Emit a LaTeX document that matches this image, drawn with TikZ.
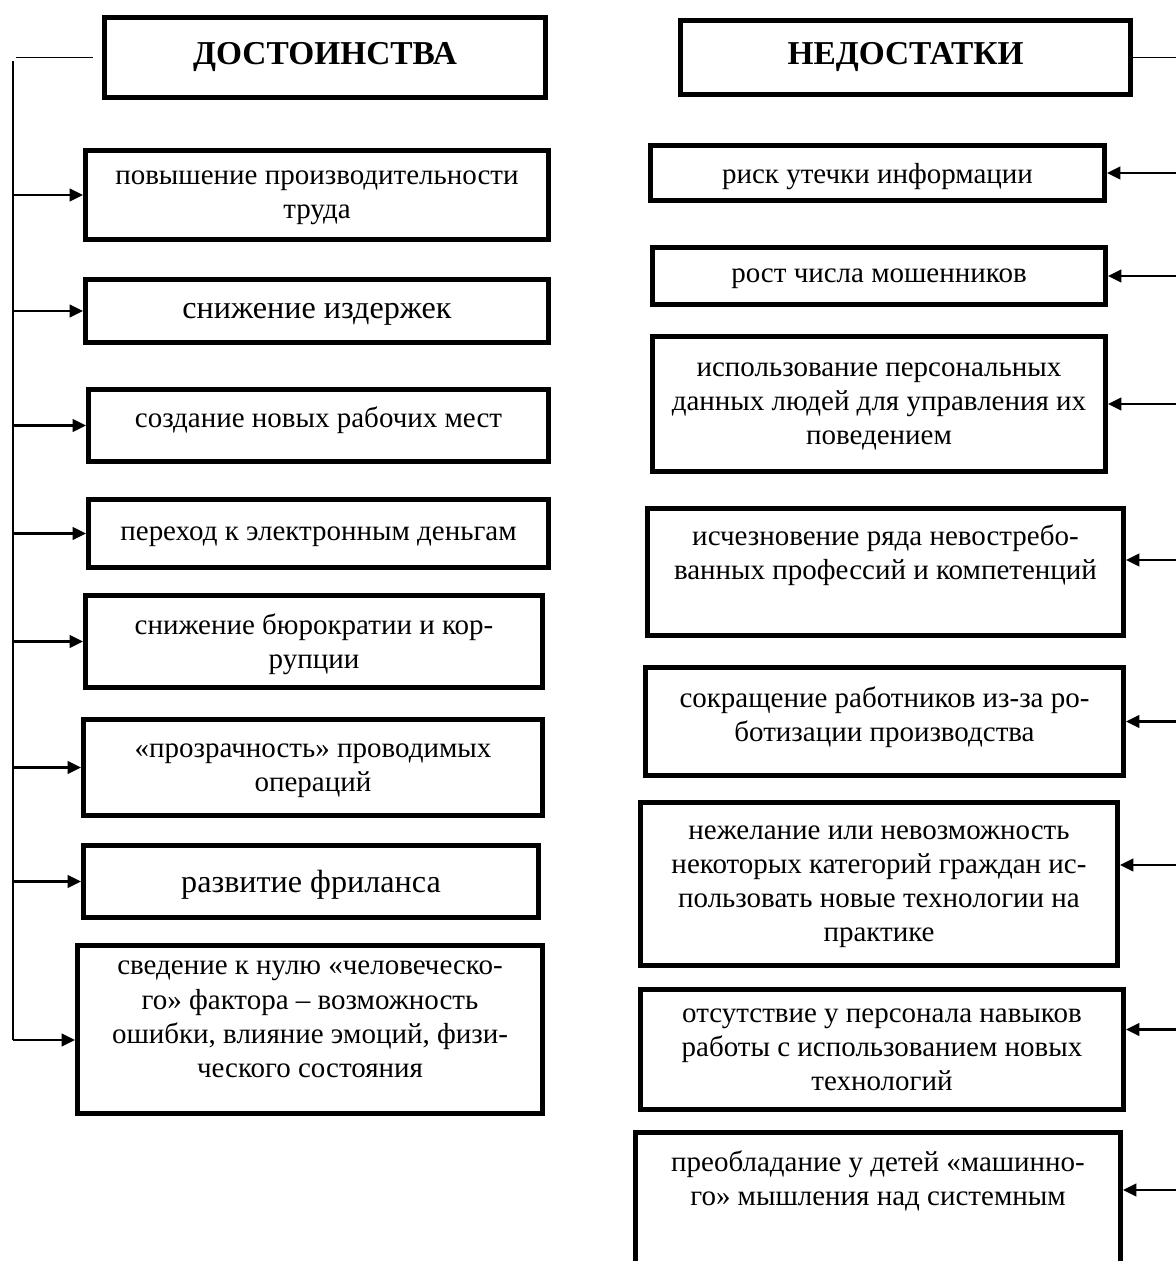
\documentclass[tikz,border=0pt]{standalone}
\usepackage{fontspec}
\setmainfont{Liberation Serif}
\usetikzlibrary{arrows.meta}
\tikzset{
  box/.style={draw, rectangle, line width=2.8pt, align=center,
              inner sep=2pt, text depth=-0.08cm,
              font=\fontsize{16.5}{19.4}\selectfont},
  bigbox/.style={box, font=\fontsize{18.3}{21}\selectfont},
  head/.style={draw, rectangle, line width=2.8pt, align=center,
               inner sep=2pt, font=\fontsize{19}{22}\selectfont\bfseries},
  arr/.style={-{Triangle[length=2.7mm,width=2.5mm]}, line width=1.4pt},
  ln/.style={line width=1.1pt}
}

\begin{document}
\begin{tikzpicture}[x=0.02cm, y=-0.02cm]

\path[use as bounding box, clip] (0,0) rectangle (1176,1261);

% Headers
\node[head, minimum width=8.82cm, minimum height=1.6cm] (D) at (325,57.5) {ДОСТОИНСТВА};
\node[head, minimum width=9.0cm, minimum height=1.48cm] (N) at (905.5,57.5) {НЕДОСТАТКИ};

% Advantages
\node[box, minimum width=9.26cm, minimum height=1.78cm] (a1) at (317,195)
    {повышение производительности\\труда};
\node[bigbox, minimum width=9.26cm, minimum height=1.26cm] (a2) at (317,311)
    {снижение издержек};
\node[box, minimum width=9.2cm, minimum height=1.44cm, text depth=0.33cm] (a3) at (318.5,425.5)
    {создание новых рабочих мест};
\node[box, minimum width=9.2cm, minimum height=1.36cm] (a4) at (318.5,533.5)
    {переход к электронным деньгам};
\node[box, minimum width=9.14cm, minimum height=1.84cm] (a5) at (314,641.5)
    {снижение бюрократии и кор-\\рупции};
\node[box, minimum width=9.18cm, minimum height=1.92cm] (a6) at (313,767.5)
    {«прозрачность» проводимых\\операций};
\node[bigbox, minimum width=9.1cm, minimum height=1.44cm] (a7) at (311,881.5)
    {развитие фриланса};
\node[box, minimum width=9.3cm, minimum height=3.36cm, text depth=0.41cm] (a8) at (310,1029.5)
    {сведение к нулю «человеческо-\\го» фактора – возможность\\ошибки, влияние эмоций, физи-\\ческого состояния};

% Disadvantages
\node[box, minimum width=9.08cm, minimum height=1.1cm] (b1) at (877.5,173)
    {риск утечки информации};
\node[box, minimum width=9.06cm, minimum height=1.14cm] (b2) at (879,276)
    {рост числа мошенников};
\node[box, minimum width=9.06cm, minimum height=2.7cm] (b3) at (879,404)
    {использование персональных\\данных людей для управления их\\поведением};
\node[box, minimum width=9.52cm, minimum height=2.54cm, text depth=0.81cm] (b4) at (885.5,572)
    {исчезновение ряда невостребо-\\ванных профессий и компетенций};
\node[box, minimum width=9.56cm, minimum height=2.16cm, text depth=0.31cm] (b5) at (884.5,721.5)
    {сокращение работников из-за ро-\\ботизации производства};
\node[box, minimum width=9.54cm, minimum height=3.26cm] (b6) at (879,884)
    {нежелание или невозможность\\некоторых категорий граждан ис-\\пользовать новые технологии на\\практике};
\node[box, minimum width=9.66cm, minimum height=2.4cm] (b7) at (882,1049.5)
    {отсутствие у персонала навыков\\работы с использованием новых\\технологий};
\node[box, minimum width=9.7cm, minimum height=3.7cm, text depth=1.89cm] (b8) at (878,1225)
    {преобладание у детей «машинно-\\го» мышления над системным};

% Left bracket
\coordinate (Lh) at (16,0);
\coordinate (Ltop) at (13,61);
\coordinate (Lbot) at (13,1040);
\draw[ln] ([xshift=-0.18cm]D.west) -- (D.west -| Lh);
\draw[ln] (Ltop) -- (Lbot);

\draw[arr] (a1.west -| Ltop) -- (a1.west);
\draw[arr] (a2.west -| Ltop) -- (a2.west);
\draw[arr] (a3.west -| Ltop) -- (a3.west);
\draw[arr] (a4.west -| Ltop) -- (a4.west);
\draw[arr] (a5.west -| Ltop) -- (a5.west);
\draw[arr] (a6.west -| Ltop) -- (a6.west);
\draw[arr] (a7.west -| Ltop) -- (a7.west);
\draw[arr] ([yshift=-0.21cm]a8.west -| Ltop) -- ([yshift=-0.21cm]a8.west);

% Right side (line runs past the edge)
\coordinate (R) at (1185,0);
\draw[ln] (N.east) -- (N.east -| R);

\draw[arr] (b1.east -| R) -- (b1.east);
\draw[arr] (b2.east -| R) -- (b2.east);
\draw[arr] (b3.east -| R) -- (b3.east);
\draw[arr] ([yshift=0.24cm]b4.east -| R) -- ([yshift=0.24cm]b4.east);
\draw[arr] (b5.east -| R) -- (b5.east);
\draw[arr] ([yshift=0.38cm]b6.east -| R) -- ([yshift=0.38cm]b6.east);
\draw[arr] ([yshift=0.4cm]b7.east -| R) -- ([yshift=0.4cm]b7.east);
\draw[arr] ([yshift=0.7cm]b8.east -| R) -- ([yshift=0.7cm]b8.east);

\end{tikzpicture}
\end{document}
